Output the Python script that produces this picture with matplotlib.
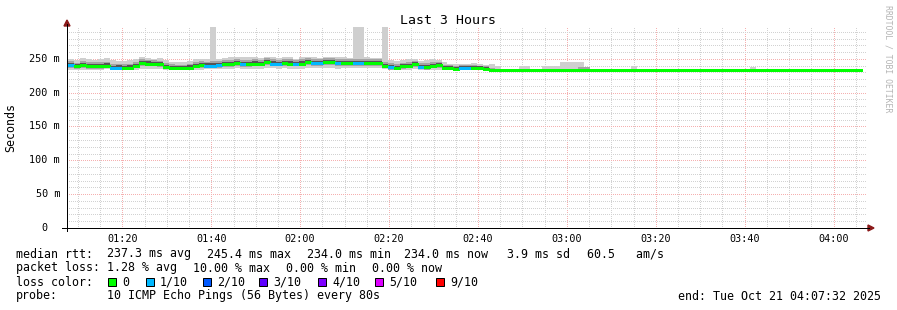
import matplotlib
matplotlib.use("Agg")
import matplotlib.pyplot as plt
from matplotlib.lines import Line2D
from matplotlib.patches import Rectangle, Polygon
from matplotlib.ticker import MultipleLocator

# ---------------- data ----------------
title = "Last 3 Hours"
y_label = "Seconds"
view_start = "01:07:32"
view_end = "04:07:32"
data_start = "01:07:48"
step_s = 80

x_tick_labels = ["01:20", "01:40", "02:00", "02:20", "02:40", "03:00", "03:20", "03:40", "04:00"]
y_tick_values = [0, 50, 100, 150, 200, 250]
y_tick_labels = ["0", "50 m", "100 m", "150 m", "200 m", "250 m"]
y_max = 297.0

# median rtt per 80 s step (ms)
median_ms = [
    241, 239, 241, 239, 239, 239, 240, 237, 237, 237,
    237, 240, 244, 243, 243, 242, 238, 237, 236.5, 236.5,
    237, 240, 241, 240, 240, 241, 242, 242, 244, 242,
    242, 243, 243, 245, 243, 243, 244, 243, 243, 243,
    245, 244, 244, 245.4, 245, 244, 244, 244, 244, 244,
    244, 244, 244, 240, 238, 237, 239, 240, 242, 238,
    238, 240, 241, 237, 236, 235.5, 236, 236, 237, 236, 235,
] + [234.0] * 63

# lost pings out of 10 per step
loss_count = [
    1, 0, 0, 0, 0, 0, 0, 1, 1, 0,
    0, 0, 0, 0, 0, 0, 0, 0, 0, 0,
    0, 0, 0, 1, 1, 1, 0, 0, 0, 1,
    0, 0, 0, 0, 1, 1, 0, 0, 1, 0,
    0, 1, 1, 0, 0, 1, 0, 0, 1, 1,
    0, 0, 0, 0, 1, 0, 0, 0, 0, 1,
    0, 0, 0, 0, 0, 0, 1, 1, 0, 0, 0,
] + [0] * 63

# smoke: distribution of the individual pings (ms)
ping_min = [
    234, 233.5, 234, 234, 233.5, 234, 234.5, 233.5, 233, 233,
    233.5, 234, 235, 235.5, 235, 234.5, 233.5, 233, 233, 233,
    233, 233.5, 234, 234.5, 235, 235, 235.5, 235, 236, 235.5,
    235, 234.5, 235, 236, 236.5, 235.5, 236, 235, 234.5, 235.5,
    236, 236.5, 237, 237, 236, 235.5, 236, 236.5, 236.5, 236,
    236.5, 237, 236, 234.5, 233.5, 233, 233.5, 234, 234.5, 233.5,
    233.5, 234, 234, 233, 233, 233, 233, 233, 233, 233, 233,
] + [234.0] * 63

ping_q1 = [
    237, 235, 237, 235, 235, 235, 236, 234, 233.5, 233.5,
    234, 236, 240, 239, 239, 238, 234.5, 233.5, 233.5, 233.5,
    233.5, 236, 237, 236.5, 236.5, 237, 238, 238, 240, 238,
    238, 239, 239, 241, 239, 239, 240, 239, 239, 239,
    241, 240, 240, 241.5, 241, 240, 240, 240, 240, 240,
    240, 240, 240, 236, 234, 233.5, 235, 236, 238, 234.5,
    234, 236, 237, 233.5, 233, 233, 233, 233, 233.5, 233, 233,
] + [234.0] * 63

ping_dlo = [
    238.5, 236.5, 238, 236, 236.5, 236, 237.5, 234.5, 234.5, 234,
    234.5, 237, 241, 240.5, 240, 239.5, 235.5, 234.5, 234, 234,
    234.5, 237.5, 238, 237.5, 237.5, 238.5, 239.5, 239, 241, 239.5,
    239, 240, 240.5, 242, 240.5, 240, 241, 240.5, 240, 240,
    242, 241.5, 241, 242.5, 242, 241, 241.5, 241, 241.5, 241.5,
    241, 241, 241.5, 237.5, 235, 234.5, 236, 237, 239, 235.5,
    235, 237, 238.5, 234, 233.5, 233, 233.5, 233.5, 234.5, 233.5, 233,
] + [234.0] * 63

ping_dhi = [
    244.5, 242, 244, 242.5, 242.5, 242, 243.5, 240, 240.5, 240,
    240.5, 243, 247, 246.5, 246, 245, 241, 240, 239.5, 239.5,
    240.5, 243, 244.5, 243.5, 243.5, 244.5, 245.5, 245.5, 247, 245.5,
    245.5, 246.5, 246, 248, 246.5, 246, 247, 246.5, 246, 246.5,
    248, 247.5, 247, 248.5, 248, 247, 247.5, 247, 247.5, 247,
    247, 247, 247, 243, 241, 240, 242, 243, 245, 241,
    241, 243, 244, 240, 239, 238.5, 239, 239, 240, 239, 237.5,
] + [234.0] * 63

ping_q3 = [
    246.5, 244.5, 246.5, 245, 245, 245, 246, 242.5, 243, 242.5,
    243, 245.5, 249.5, 248.5, 248, 247.5, 243.5, 242, 241.5, 241.5,
    242.5, 245.5, 246.5, 246, 246.5, 247, 248, 248, 249.5, 248,
    248.5, 249, 248.5, 250.5, 249, 248.5, 250, 249, 248, 249,
    250.5, 250, 249.5, 251, 250.5, 250, 250, 249.5, 250, 249.5,
    249.5, 249.5, 249, 245.5, 243.5, 242.5, 244.5, 245.5, 247, 243.5,
    243.5, 245.5, 246, 241.5, 240.5, 240, 240.5, 240.5, 241.5, 240, 239,
    236, 235, 234, 234, 234, 234, 234, 234, 234, 234,
    234, 234, 234, 234, 234, 238, 238, 234, 234, 234,
    234, 234, 234, 234, 234, 234, 234, 234, 234, 234,
    234, 234, 234, 234, 234, 234, 234, 234, 234, 234,
    234, 234, 234, 234, 234, 234, 234, 234, 234, 234,
    234, 234, 234, 234, 234, 234, 234, 234, 234, 234,
    234, 234, 234,
]

ping_max = [
    250, 248, 251, 249, 248, 250, 251, 248, 247, 247,
    248, 249, 252, 251, 250, 251, 248, 246, 245, 246,
    247, 249, 250, 250, 300, 250, 251, 252, 252, 252,
    253, 252, 251, 253, 252, 251, 253, 252, 250, 252,
    253, 252, 251, 253, 252, 253, 252, 251, 300, 300,
    252, 251, 251, 300, 248, 247, 248, 249, 249, 247,
    248, 249, 248, 245, 243, 243, 242, 243, 244, 242, 241,
    242, 240, 234, 234, 234, 240, 240, 234, 234, 239,
    239, 239, 245, 245, 245, 245, 234, 234, 234, 234,
    234, 234, 234, 234, 239, 234, 234, 234, 234, 234,
    234, 234, 234, 234, 234, 234, 234, 234, 234, 234,
    234, 234, 234, 234, 238.5, 234, 234, 234, 234, 234,
    234, 234, 234, 234, 234, 234, 234, 234, 234, 234,
    234, 234, 234,
]

loss_levels = ["0", "1/10", "2/10", "3/10", "4/10", "5/10", "9/10"]
loss_thresholds = [0, 1, 2, 3, 4, 5, 9]
loss_colors = ["#00ff00", "#00b8ff", "#0059ff", "#5e00ff", "#7e00ff", "#dd00ff", "#ff0000"]

legend_rtt = [("median rtt:", 16), ("237.3 ms avg", 107), ("245.4 ms max", 207),
              ("234.0 ms min", 307), ("234.0 ms now", 404), ("3.9 ms sd", 507),
              ("60.5   am/s", 587)]
legend_loss = [("packet loss:", 16), ("1.28 % avg", 107), ("10.00 % max", 193),
               ("0.00 % min", 286), ("0.00 % now", 372)]
probe_text = "10 ICMP Echo Pings (56 Bytes) every 80s"
end_text = "end: Tue Oct 21 04:07:32 2025"
watermark = "RRDTOOL / TOBI OETIKER"


def hm_to_min(s):
    parts = [int(p) for p in s.split(":")]
    m = parts[0] * 60 + parts[1]
    if len(parts) > 2:
        m += parts[2] / 60.0
    return m


# ---------------- figure ----------------
W, H = 897, 310
fig = plt.figure(figsize=(W / 100, H / 100), dpi=100)
fig.patch.set_facecolor("white")
MONO = "DejaVu Sans Mono"


def fx(x):
    return x / W


def fy(y):
    return 1 - y / H


ax = fig.add_axes([fx(67), fy(228), 800 / W, (228 - 27) / H])
ax.set_facecolor("white")
x0 = hm_to_min(view_start)
x1 = hm_to_min(view_end)
ax.set_xlim(x0, x1)
ax.set_ylim(0, y_max)

step_min = step_s / 60.0
t_start = hm_to_min(data_start)
n = len(median_ms)
xs = [t_start + i * step_min for i in range(n)]

kw = dict(width=step_min, align="edge", linewidth=0, antialiased=False)
ax.bar(xs, [b - a for a, b in zip(ping_min, ping_max)], bottom=ping_min, color="#cfcfcf", zorder=2, **kw)
ax.bar(xs, [b - a for a, b in zip(ping_q1, ping_q3)], bottom=ping_q1, color="#a4a4a4", zorder=3, **kw)
ax.bar(xs, [b - a for a, b in zip(ping_dlo, ping_dhi)], bottom=ping_dlo, color="#555555", zorder=4, **kw)


def loss_color(c):
    idx = 0
    for k, th in enumerate(loss_thresholds):
        if c >= th:
            idx = k
    return loss_colors[idx]


lc = ax.hlines(median_ms, xs, [x + step_min for x in xs],
               colors=[loss_color(c) for c in loss_count], linewidth=2.0, zorder=5)
lc.set_capstyle("butt")
lc.set_antialiased(False)

# grid
ax.set_xticks([hm_to_min(t) for t in x_tick_labels])
ax.set_xticklabels(x_tick_labels, fontfamily=MONO, fontsize=7.3)
ax.xaxis.set_minor_locator(MultipleLocator(5))
ax.set_yticks(y_tick_values)
ax.set_yticklabels([])
ax.yaxis.set_minor_locator(MultipleLocator(10))
ax.tick_params(which="both", length=0)
ax.tick_params(axis="x", pad=4)
ax.grid(which="minor", color="#d2d2d2", linestyle=(0.5, (1, 1)), linewidth=0.72, zorder=0)
ax.grid(which="major", color="#f5b0b0", linestyle=(0.5, (1, 1)), linewidth=0.72, zorder=0)
ax.set_axisbelow(True)
for s in ax.spines.values():
    s.set_visible(False)

# y tick labels (right-aligned in monospace columns, "0" padded like rrdtool)
cw = 0.602 * 7.3 * 100 / 72
for v, lab in zip(y_tick_values, y_tick_labels):
    pad_chars = 2 if " " not in lab else 0
    ax.text(-(7 + pad_chars * cw) / 800, v, lab, transform=ax.get_yaxis_transform(),
            ha="right", va="center", fontfamily=MONO, fontsize=7.3)

# axis lines and arrows
fig.add_artist(Line2D([fx(67), fx(67)], [fy(231), fy(24)], color="black", linewidth=0.72))
fig.add_artist(Line2D([fx(62), fx(869)], [fy(228), fy(228)], color="black", linewidth=0.72))
fig.add_artist(Polygon([[fx(64), fy(26)], [fx(70), fy(26)], [fx(67), fy(20)]], closed=True,
                       color="#8b1a1a", transform=fig.transFigure))
fig.add_artist(Polygon([[fx(868), fy(225)], [fx(868), fy(231)], [fx(874), fy(228)]], closed=True,
                       color="#8b1a1a", transform=fig.transFigure))

# texts
fig.text(fx(448), fy(24), title, ha="center", va="baseline", fontfamily=MONO, fontsize=9.5)
fig.text(fx(11), fy(127), y_label, rotation=90, ha="center", va="center", fontfamily=MONO, fontsize=8.4)
fig.text(fx(888), fy(59), watermark, rotation=270, ha="center", va="center",
         fontfamily=MONO, fontsize=5.9, color="#b4b4b4")

LF = 8.4
for txt, x in legend_rtt:
    fig.text(fx(x), fy(257.5), txt, ha="left", va="baseline", fontfamily=MONO, fontsize=LF)
for txt, x in legend_loss:
    fig.text(fx(x), fy(271.5), txt, ha="left", va="baseline", fontfamily=MONO, fontsize=LF)
fig.text(fx(16), fy(285.5), "loss color:", ha="left", va="baseline", fontfamily=MONO, fontsize=LF)
square_x = [108, 146, 203, 259, 318, 375, 436]
for sx, lab, col in zip(square_x, loss_levels, loss_colors):
    fig.add_artist(Rectangle((fx(sx), fy(285.5)), 8 / W, 8 / H, facecolor=col, edgecolor="black",
                             linewidth=0.72, transform=fig.transFigure))
    fig.text(fx(sx + 14), fy(285.5), lab, ha="left", va="baseline", fontfamily=MONO, fontsize=LF)
fig.text(fx(16), fy(299.5), "probe:", ha="left", va="baseline", fontfamily=MONO, fontsize=LF)
fig.text(fx(107), fy(299.5), probe_text, ha="left", va="baseline", fontfamily=MONO, fontsize=LF)
fig.text(fx(881), fy(299.5), end_text, ha="right", va="baseline", fontfamily=MONO, fontsize=LF)

fig.savefig("out.png", dpi=100)
